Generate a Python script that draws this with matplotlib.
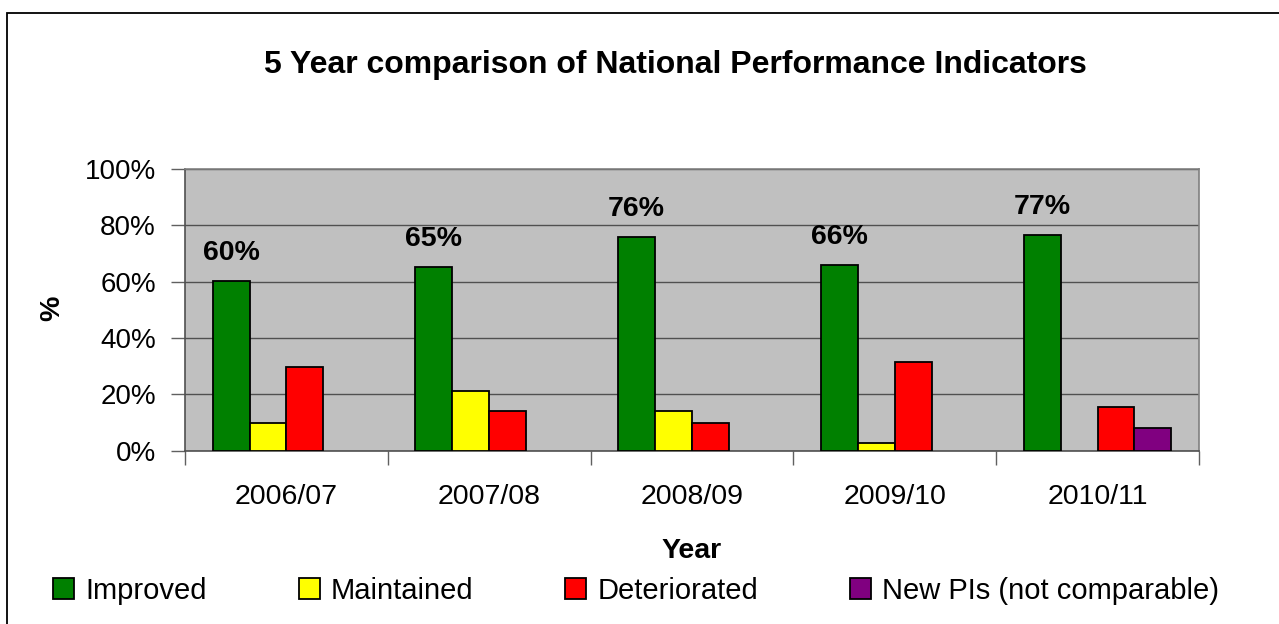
import matplotlib
matplotlib.use("Agg")
import matplotlib.pyplot as plt
import numpy as np
from matplotlib.patches import Patch, Rectangle

plt.rcParams['font.family'] = ['Liberation Sans', 'DejaVu Sans']

years = ["2006/07", "2007/08", "2008/09", "2009/10", "2010/11"]
series_names = ["Improved", "Maintained", "Deteriorated", "New PIs (not comparable)"]
improved = [60.3, 65.2, 75.9, 65.9, 76.6]
maintained = [10, 21.3, 14.2, 2.8, 0]
deteriorated = [29.8, 14.2, 9.9, 31.3, 15.6]
new_pis = [0, 0, 0, 0, 7.9]
improved_labels = ["60%", "65%", "76%", "66%", "77%"]
colors = ["#008000", "#FFFF00", "#FF0000", "#800080"]
yticks = [0, 20, 40, 60, 80, 100]
ytick_labels = ["0%", "20%", "40%", "60%", "80%", "100%"]

W, H = 1279, 624
fig = plt.figure(figsize=(W / 100, H / 100), dpi=100)
ax = fig.add_axes([185 / W, 1 - 450.7 / H, (1199 - 185) / W, (450.7 - 168.7) / H])
ax.set_facecolor("#C0C0C0")

x = np.arange(len(years))
w = 1 / 5.5
all_series = [improved, maintained, deteriorated, new_pis]
handles = []
for i, (vals, col, name) in enumerate(zip(all_series, colors, series_names)):
    v = np.array(vals, dtype=float)
    keep = v > 0
    ax.bar((x + (i - 1.5) * w)[keep], v[keep], width=w, color=col, edgecolor="black",
           linewidth=1.3, zorder=3)
    handles.append(Patch(facecolor=col, edgecolor="black", linewidth=1.3, label=name))

for xi, v, lab in zip(x, improved, improved_labels):
    ax.annotate(lab, xy=(xi - 1.5 * w, v), xytext=(0, 15), textcoords="offset points",
                ha="center", va="baseline", fontsize=20.5, fontweight="bold", zorder=4)

ax.set_xlim(-0.5, len(years) - 0.5)
ax.set_ylim(0, 100)
ax.set_yticks(yticks)
ax.set_yticklabels(ytick_labels, fontsize=20)
ax.set_xticks(x)
ax.set_xticklabels(years, fontsize=20.5)
ax.set_xticks(np.arange(-0.5, len(years)), minor=True)
ax.tick_params(axis="x", which="major", length=0, pad=24)
ax.tick_params(axis="x", which="minor", length=10, width=1, color="#606060", direction="out")
ax.tick_params(axis="y", length=10, width=1, color="#606060", direction="out", pad=11)
ax.yaxis.grid(True, color="#505050", linewidth=1.0, zorder=1)
ax.set_axisbelow(True)
for s in ["top", "right"]:
    ax.spines[s].set_color("#808080")
    ax.spines[s].set_linewidth(1.2)
for s in ["left", "bottom"]:
    ax.spines[s].set_color("#505050")
    ax.spines[s].set_linewidth(1.2)

fig.text(675 / W, 1 - 73 / H, "5 Year comparison of National Performance Indicators",
         ha="center", va="baseline", fontsize=23, fontweight="bold")
fig.text(692 / W, 1 - 558 / H, "Year", ha="center", va="baseline",
         fontsize=20.5, fontweight="bold")
fig.text(52 / W, 1 - 308 / H, "%", ha="center", va="center", rotation=90,
         fontsize=20.5, fontweight="bold")

fig.legend(handles=handles, loc="center", bbox_to_anchor=(636 / W, 1 - 591 / H),
           ncol=4, frameon=False, fontsize=21, handlelength=0.72, handleheight=0.72,
           handletextpad=0.38, columnspacing=3.15, borderaxespad=0, borderpad=0)

fig.patches.append(Rectangle((7 / W, -0.05), 1.1, 1 - 13 / H + 0.05, transform=fig.transFigure,
                             fill=False, edgecolor="black", linewidth=1.3, zorder=0))

fig.savefig("out.png", dpi=100)
